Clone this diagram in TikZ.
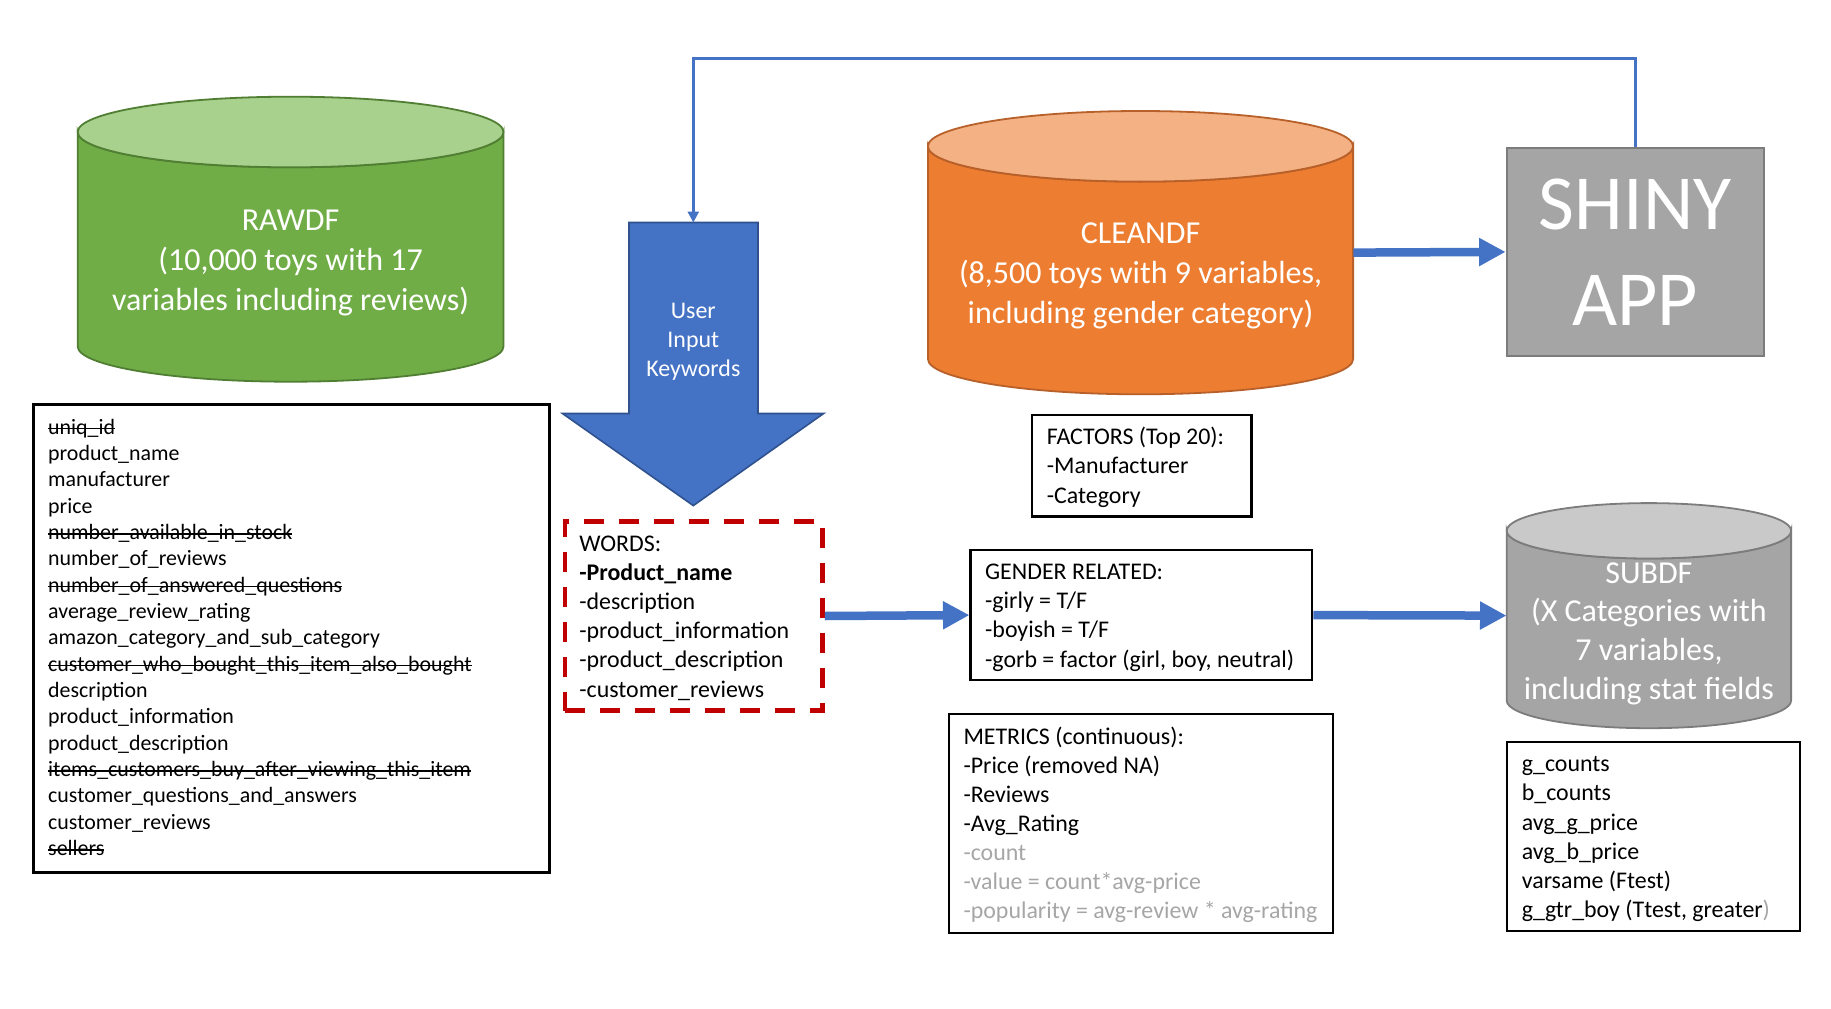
\documentclass[tikz,border=0pt]{standalone}
\usepackage{fontspec}
\setmainfont{Carlito}
\usetikzlibrary{arrows.meta}
\definecolor{grnbody}{HTML}{70AD47}
\definecolor{grntop}{HTML}{A9D18E}
\definecolor{grnline}{HTML}{507E32}
\definecolor{orgbody}{HTML}{ED7D31}
\definecolor{orgtop}{HTML}{F4B183}
\definecolor{orgline}{HTML}{B8602A}
\definecolor{gryfill}{HTML}{A5A5A5}
\definecolor{grytop}{HTML}{C9C9C9}
\definecolor{gryline}{HTML}{7C7C7C}
\definecolor{myblue}{HTML}{4472C4}
\definecolor{darkblue}{HTML}{2F528F}
\definecolor{myred}{HTML}{C00000}
\definecolor{txtgray}{HTML}{A6A6A6}
\newcommand\bigf{\fontsize{32}{40}\selectfont}
\newcommand\subf{\fontsize{32}{38.6}\selectfont}
\newcommand\boxf{\fontsize{23.9}{29.1}\selectfont}
\newcommand\fieldf{\fontsize{21.9}{26.33}\selectfont}
\newcommand\shinyf{\fontsize{78}{96}\selectfont}
\newcommand\strk[1]{\leavevmode\setbox0\hbox{#1}\rlap{\rule[0.23em]{\wd0}{1.6pt}}\box0}
% cylinder: cx, rx, top-centre y, bottom-centre y, ry, body, top, line
\newcommand\mycyl[8]{%
  \path[fill=#6,draw=#8,line width=1.8pt] (#1-#2,#3) -- (#1-#2,#4)
    arc[start angle=180,end angle=0,x radius=#2,y radius=#5] -- (#1+#2,#3)
    arc[start angle=0,end angle=180,x radius=#2,y radius=#5] -- cycle;
  \path[fill=#7,draw=#8,line width=1.8pt] (#1,#3) ellipse[x radius=#2,y radius=#5];
}
\tikzset{
  frame/.style={draw=black,line width=2.2pt,rectangle,inner sep=0pt},
  boxtxt/.style={anchor=west,align=left,inner sep=0pt,font=\boxf,yshift=-2.5pt},
  cyltext/.style={text=white,align=center,font=\bigf,inner sep=0pt},
  thick arrow/.style={draw=myblue,line width=8.5pt,
    -{Triangle[length=26.5pt,width=26.5pt]}},
  loopline/.style={draw=myblue,line width=2.7pt,
    -{Triangle[length=11pt,width=11pt]}},
}
\begin{document}
\begin{tikzpicture}[x=1pt,y=-1pt]
\useasboundingbox (0,0) rectangle (1831,1009);
\fill[white] (0,0) rectangle (1831,1009);

% ---------- cylinders ----------
\mycyl{290.6}{212.9}{132}{346.4}{35.3}{grnbody}{grntop}{grnline}
\node[inner sep=0pt,minimum width=425.8pt,minimum height=285pt] (rawdf) at (290.6,239.2) {};
\node[cyltext] (rawdftxt) at (290.6,262.5) {RAWDF\\(10,000 toys with 17\\variables including reviews)};

\mycyl{1140.5}{212.6}{146.3}{359}{35.3}{orgbody}{orgtop}{orgline}
\node[inner sep=0pt,minimum width=425.2pt,minimum height=283.3pt] (cleandf) at (1140.5,252.6) {};
\node[cyltext] (cleandftxt) at (1140.5,275.5) {CLEANDF\\(8,500 toys with 9 variables,\\including gender category)};

\mycyl{1648.9}{142.2}{530.8}{700.5}{27.7}{gryfill}{grytop}{gryline}
\node[inner sep=0pt,minimum width=284.4pt,minimum height=225.1pt] (subdf) at (1648.9,615.6) {};
\node[cyltext,font=\subf] (subdftxt) at (1648.9,633.5) {SUBDF\\(X Categories with\\7 variables,\\including stat fields};

% ---------- SHINY APP ----------
\node[draw=gryline,fill=gryfill,line width=2.2pt,minimum width=257pt,minimum height=208.3pt,
  inner sep=0pt,text=white,align=center,font=\shinyf] (shiny) at (1635.2,251.9) {SHINY\\APP};

% ---------- big down arrow ----------
\path[fill=myblue,draw=darkblue,line width=1.6pt]
  (629,222.5) -- (758,222.5) -- (758,413.5) -- (823.6,413.5) -- (693.3,505.6)
  -- (562.5,413.5) -- (629,413.5) -- cycle;
\coordinate (kwtop) at (693.3,222.5);
\node[cyltext,font=\boxf] (uik) at (693.3,342) {User\\Input\\Keywords};

% ---------- text boxes ----------
\node[frame,line width=2.6pt,minimum width=516.4pt,minimum height=467.9pt] (fields) at (291.5,638.7) {};
\node[boxtxt,font=\fieldf,yshift=1.5pt] (fieldstxt) at ([xshift=16pt]fields.west) {\strut\strk{uniq\_id}\\
product\_name\\
manufacturer\\
price\\
\strk{number\_available\_in\_stock}\\
number\_of\_reviews\\
\strk{number\_of\_answered\_questions}\\
average\_review\_rating\\
amazon\_category\_and\_sub\_category\\
\strk{customer\_who\_bought\_this\_item\_also\_bought}\\
description\\
product\_information\\
product\_description\\
\strk{items\_customers\_buy\_after\_viewing\_this\_item}\\
customer\_questions\_and\_answers\\
customer\_reviews\\
\strk{sellers}\strut};

\node[frame,draw=myred,line width=4.6pt,dash pattern=on 20pt off 15pt,
  minimum width=257.7pt,minimum height=189pt] (words) at (693.8,616) {};
\node[boxtxt] (wordstxt) at ([xshift=16.5pt]words.west)
  {\strut WORDS:\\\textbf{-Product\_name}\\-description\\-product\_information\\-product\_description\\-customer\_reviews\strut};

\node[frame,minimum width=219.6pt,minimum height=101.8pt] (factors) at (1141.6,465.6) {};
\node[boxtxt] (factorstxt) at ([xshift=16pt]factors.west)
  {\strut FACTORS (Top 20):\\-Manufacturer\\-Category\strut};

\node[frame,minimum width=341.7pt,minimum height=130.5pt] (gender) at (1141.4,615.1) {};
\node[boxtxt] (gendertxt) at ([xshift=15.5pt]gender.west)
  {\strut GENDER RELATED:\\-girly = T/F\\-boyish = T/F\\-gorb = factor (girl, boy, neutral)\strut};

\node[frame,minimum width=383.8pt,minimum height=219pt] (metrics) at (1140.8,823.3) {};
\node[boxtxt] (metricstxt) at ([xshift=15.5pt]metrics.west)
  {\strut METRICS (continuous):\\-Price (removed NA)\\-Reviews\\-Avg\_Rating\\
  {\color{txtgray}-count}\\{\color{txtgray}-value = count*avg-price}\\{\color{txtgray}-popularity = avg-review * avg-rating}\strut};

\node[frame,minimum width=293.3pt,minimum height=189.2pt] (stats) at (1653.4,836.3) {};
\node[boxtxt] (statstxt) at ([xshift=16pt]stats.west)
  {\strut g\_counts\\b\_counts\\avg\_g\_price\\avg\_b\_price\\varsame (Ftest)\\g\_gtr\_boy (Ttest, greater{\color{txtgray})}\strut};

% ---------- connectors ----------
\draw[thick arrow] (cleandf.east) -- (shiny.west);
\draw[thick arrow] (words.east) -- (gender.west);
\draw[thick arrow] (gender.east) -- (subdf.west);
\coordinate (lt) at (693.3,58.3);
\draw[loopline] (shiny.north) |- (lt) -- (kwtop);
\end{tikzpicture}
\end{document}
